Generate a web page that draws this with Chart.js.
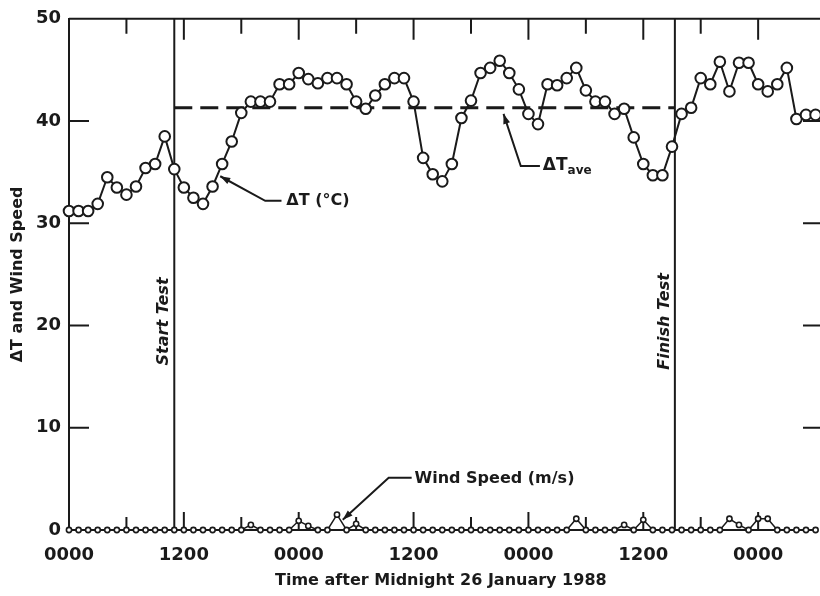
<!DOCTYPE html>
<html>
<head>
<meta charset="utf-8">
<script src="https://cdn.jsdelivr.net/npm/chart.js@4"></script>
<style>
  html, body { margin: 0; padding: 0; background: #fff; overflow: hidden; }
  #chart { display: block; width: 820px; height: 596px; }
</style>
</head>
<body>
<canvas id="chart" width="820" height="596"></canvas>
<script>
// hourly readings, hour 0 = midnight 26 January 1988
const deltaT = [
  31.2, 31.2, 31.2, 31.9, 34.5, 33.5, 32.8, 33.6, 35.4, 35.8,
  38.5, 35.3, 33.5, 32.5, 31.9, 33.6, 35.8, 38.0, 40.8, 41.9,
  41.9, 41.9, 43.6, 43.6, 44.7, 44.1, 43.7, 44.2, 44.2, 43.6,
  41.9, 41.2, 42.5, 43.6, 44.2, 44.2, 41.9, 36.4, 34.8, 34.1,
  35.8, 40.3, 42.0, 44.7, 45.2, 45.9, 44.7, 43.1, 40.7, 39.7,
  43.6, 43.5, 44.2, 45.2, 43.0, 41.9, 41.9, 40.7, 41.2, 38.4,
  35.8, 34.7, 34.7, 37.5, 40.7, 41.3, 44.2, 43.6, 45.8, 42.9,
  45.7, 45.7, 43.6, 42.9, 43.6, 45.2, 40.2, 40.6, 40.6
];
const windSpeed = [
  0, 0, 0, 0, 0, 0, 0, 0, 0, 0,
  0, 0, 0, 0, 0, 0, 0, 0, 0, 0.5,
  0, 0, 0, 0, 0.9, 0.4, 0, 0, 1.5, 0,
  0.6, 0, 0, 0, 0, 0, 0, 0, 0, 0,
  0, 0, 0, 0, 0, 0, 0, 0, 0, 0,
  0, 0, 0, 1.1, 0, 0, 0, 0, 0.5, 0,
  1.0, 0, 0, 0, 0, 0, 0, 0, 0, 1.1,
  0.5, 0, 1.1, 1.1, 0, 0, 0, 0, 0
];
const deltaTAve = 41.3;
const startTestHour = 11;
const finishTestHour = 63.3;

const xTickHours = [0, 12, 24, 36, 48, 60, 72];
const xTickLabels = ['0000', '1200', '0000', '1200', '0000', '1200', '0000'];
const xMinorHours = [6, 18, 30, 42, 54, 66];
const yTickValues = [0, 10, 20, 30, 40, 50];

const INK = '#1a1a1a';
Chart.defaults.font.family = "'DejaVu Sans', sans-serif";
Chart.defaults.color = INK;

function toPx(chart, h, v) {
  return { x: chart.scales.x.getPixelForValue(h), y: chart.scales.y.getPixelForValue(v) };
}

function leader(ctx, pts) {
  ctx.beginPath();
  ctx.moveTo(pts[0].x, pts[0].y);
  for (let i = 1; i < pts.length; i++) ctx.lineTo(pts[i].x, pts[i].y);
  ctx.stroke();
  // arrowhead at first point
  const a = pts[0], b = pts[1];
  const ang = Math.atan2(a.y - b.y, a.x - b.x);
  ctx.beginPath();
  ctx.moveTo(a.x, a.y);
  ctx.lineTo(a.x - 10 * Math.cos(ang) + 3.5 * Math.sin(ang), a.y - 10 * Math.sin(ang) - 3.5 * Math.cos(ang));
  ctx.lineTo(a.x - 10 * Math.cos(ang) - 3.5 * Math.sin(ang), a.y - 10 * Math.sin(ang) + 3.5 * Math.cos(ang));
  ctx.closePath();
  ctx.fill();
}

// the plot frame runs past the right edge of the picture, so no right border
const framePlugin = {
  id: 'frame',
  beforeDatasetsDraw(chart) {
    const { ctx, chartArea: ca } = chart;
    const sx = chart.scales.x, sy = chart.scales.y;
    const right = chart.width + 4;
    ctx.save();
    ctx.strokeStyle = INK;
    ctx.lineWidth = 2;
    ctx.beginPath();
    ctx.moveTo(ca.left, ca.top);
    ctx.lineTo(right, ca.top);
    ctx.stroke();
    // inward tick marks
    ctx.beginPath();
    xTickHours.slice(1).forEach(h => {
      const px = sx.getPixelForValue(h);
      ctx.moveTo(px, ca.top); ctx.lineTo(px, ca.top + 21);
      ctx.moveTo(px, ca.bottom); ctx.lineTo(px, ca.bottom - 18);
    });
    xMinorHours.forEach(h => {
      const px = sx.getPixelForValue(h);
      ctx.moveTo(px, ca.top); ctx.lineTo(px, ca.top + 15);
      ctx.moveTo(px, ca.bottom); ctx.lineTo(px, ca.bottom - 13);
    });
    yTickValues.slice(1, -1).forEach(v => {
      const py = sy.getPixelForValue(v);
      ctx.moveTo(ca.left, py); ctx.lineTo(ca.left + 20, py);
      ctx.moveTo(right, py); ctx.lineTo(right - 21, py);
    });
    ctx.stroke();
    ctx.restore();
  },
  afterDatasetsDraw(chart) {
    const { ctx } = chart;
    ctx.save();
    ctx.strokeStyle = INK;
    ctx.fillStyle = INK;
    ctx.lineWidth = 2;
    ctx.textBaseline = 'middle';
    ctx.textAlign = 'left';

    // ΔT (°C)
    leader(ctx, [toPx(chart, 15.8, 34.6), toPx(chart, 20.5, 32.2), toPx(chart, 22.2, 32.2)]);
    ctx.font = "bold 16px 'DejaVu Sans'";
    let p = toPx(chart, 22.7, 32.2);
    ctx.fillText('ΔT (°C)', p.x, p.y);

    // ΔT ave
    leader(ctx, [toPx(chart, 45.4, 40.7), toPx(chart, 47.2, 35.6), toPx(chart, 49.2, 35.6)]);
    p = toPx(chart, 49.5, 35.6);
    ctx.font = "bold 17px 'DejaVu Sans'";
    ctx.fillText('ΔT', p.x, p.y);
    const w = ctx.measureText('ΔT').width;
    ctx.font = "bold 12px 'DejaVu Sans'";
    ctx.fillText('ave', p.x + w, p.y + 5);

    // Wind Speed
    leader(ctx, [toPx(chart, 28.6, 1.0), toPx(chart, 33.4, 5.1), toPx(chart, 35.8, 5.1)]);
    ctx.font = "bold 16px 'DejaVu Sans'";
    p = toPx(chart, 36.1, 5.0);
    ctx.fillText('Wind Speed (m/s)', p.x, p.y);

    // Start / Finish test
    ctx.font = "italic bold 16px 'DejaVu Sans'";
    ctx.textAlign = 'center';
    [[9.9, 'Start Test'], [62.3, 'Finish Test']].forEach(([h, txt]) => {
      const q = toPx(chart, h, 20.4);
      ctx.save();
      ctx.translate(q.x, q.y);
      ctx.rotate(-Math.PI / 2);
      ctx.fillText(txt, 0, 0);
      ctx.restore();
    });
    ctx.restore();
  }
};

new Chart(document.getElementById('chart'), {
  type: 'line',
  data: {
    datasets: [
      {
        label: 'ΔT (°C)',
        data: deltaT.map((v, i) => ({ x: i, y: v })),
        borderColor: INK,
        borderWidth: 2,
        pointRadius: 5.3,
        pointBorderWidth: 2,
        pointBackgroundColor: '#fff',
        pointBorderColor: INK,
        tension: 0,
        order: 0,
        clip: false
      },
      {
        label: 'Wind Speed (m/s)',
        data: windSpeed.map((v, i) => ({ x: i, y: v })),
        borderColor: INK,
        borderWidth: 1.5,
        pointRadius: 2.6,
        pointBorderWidth: 1.6,
        pointBackgroundColor: '#fff',
        pointBorderColor: INK,
        order: 1,
        clip: false
      },
      {
        label: 'ΔT ave',
        data: [{ x: startTestHour, y: deltaTAve }, { x: finishTestHour, y: deltaTAve }],
        borderColor: INK,
        borderWidth: 3,
        borderDash: [18, 8],
        pointRadius: 0,
        order: 2
      },
      {
        label: 'Start Test',
        data: [{ x: startTestHour, y: 0 }, { x: startTestHour, y: 50 }],
        borderColor: INK,
        borderWidth: 2,
        pointRadius: 0,
        order: 3
      },
      {
        label: 'Finish Test',
        data: [{ x: finishTestHour, y: 0 }, { x: finishTestHour, y: 50 }],
        borderColor: INK,
        borderWidth: 2,
        pointRadius: 0,
        order: 3
      }
    ]
  },
  options: {
    responsive: false,
    animation: false,
    layout: { padding: { top: 17, right: 0, left: 0, bottom: 0 } },
    plugins: {
      legend: { display: false },
      tooltip: { enabled: false }
    },
    scales: {
      x: {
        type: 'linear',
        min: 0,
        max: 77.7,
        afterFit(s) { s.height = 66; },
        afterBuildTicks(s) { s.ticks = xTickHours.map(v => ({ value: v })); },
        grid: { display: false, drawTicks: false },
        border: { color: INK, width: 2 },
        ticks: {
          autoSkip: false,
          maxRotation: 0,
          padding: 15,
          font: { size: 18, weight: 'bold' },
          callback: v => xTickLabels[xTickHours.indexOf(v)] ?? ''
        },
        title: {
          display: true,
          text: 'Time after Midnight 26 January 1988',
          font: { size: 16, weight: 'bold' },
          padding: { top: 0, bottom: 6 }
        }
      },
      y: {
        min: 0,
        max: 50,
        afterFit(s) { s.width = 69; },
        afterBuildTicks(s) { s.ticks = yTickValues.map(v => ({ value: v })); },
        grid: { display: false, drawTicks: false },
        border: { color: INK, width: 2 },
        ticks: {
          padding: 8,
          font: { size: 18, weight: 'bold' }
        },
        title: {
          display: true,
          text: 'ΔT and Wind Speed',
          font: { size: 16, weight: 'bold' },
          padding: { top: 8, bottom: 0 }
        }
      }
    }
  },
  plugins: [framePlugin]
});
</script>
</body>
</html>
